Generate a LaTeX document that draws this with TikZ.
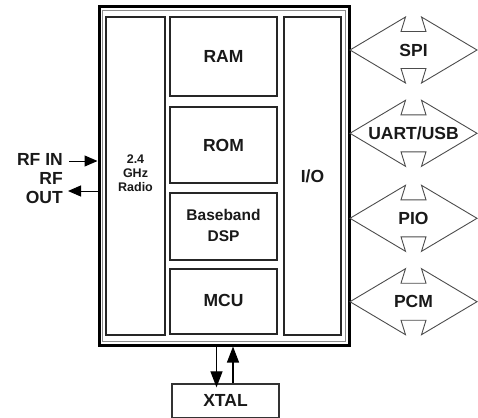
\documentclass[tikz,border=0pt]{standalone}
\usepackage{fontspec}
\setmainfont{Liberation Sans}
\usetikzlibrary{arrows.meta}
\tikzset{
  lab/.style={font=\fontsize{17.5}{19}\selectfont\bfseries, text=black!90, inner sep=0pt, align=center},
  blk/.style={draw=black!85, line width=1.6pt, inner sep=0pt},
  ifshape/.style={draw=black!70, line width=0.9pt, line join=miter},
  sig/.style={line width=1pt, -{Triangle[length=13pt,width=11pt]}},
  xsig/.style={line width=1.2pt, -{Triangle[length=16pt,width=12pt]}},
}
\begin{document}
\begin{tikzpicture}[x=1pt,y=-1pt]
\useasboundingbox (0,0) rectangle (478,417);
\clip (0,0) rectangle (478,417);
% chip
\node[draw, line width=3pt, minimum width=250pt, minimum height=338pt, inner sep=0pt] (chip) at (224,176) {};
\draw[black!45, line width=0.8pt] (102.5,10.5) rectangle (345.5,341.5);
% inner blocks
\node[blk, minimum width=59pt, minimum height=318pt] (radio) at (135.5,176) {};
\node[font=\fontsize{12.5}{14}\selectfont\bfseries, align=center, inner sep=0pt, text=black!90] (radiotxt) at (135.5,173) {2.4\\GHz\\Radio};
\node[blk, minimum width=107pt, minimum height=79pt] (ram) at (223.5,56.5) {};
\node[lab] at (ram.center) {RAM};
\node[blk, minimum width=107pt, minimum height=76pt] (rom) at (223.5,145) {};
\node[lab] at (rom.center) {ROM};
\node[blk, minimum width=107pt, minimum height=67pt] (bb) at (223.5,226.5) {};
\node[lab, font=\fontsize{15.5}{21}\selectfont\bfseries] at (223.5,225.5) {Baseband\\DSP};
\node[blk, minimum width=107pt, minimum height=65pt] (mcu) at (223.5,301.5) {};
\node[lab] at (223.5,300) {MCU};
\node[blk, minimum width=57pt, minimum height=318pt] (io) at (312.5,176) {};
\node[lab] at (io.center) {I/O};
% XTAL
\node[draw=black!80, line width=1.3pt, minimum width=107pt, minimum height=34pt, inner sep=0pt] (xtal) at (225.5,401) {};
\node[lab] at (225.5,400) {XTAL};
\coordinate (xd) at (216.5,345);
\coordinate (xu) at (233,384);
\draw[xsig] (xd |- chip.south) -- ([yshift=-4pt]xd |- xtal.north);
\draw[xsig] (xu |- xtal.north) -- (xu |- chip.south);
% RF
\node[lab, align=right, anchor=east, font=\fontsize{17.5}{19}\selectfont\bfseries] (rf) at (63,179) {RF IN\\RF\\OUT};
\coordinate (rfin) at (69,161);
\coordinate (rfout) at (68,191);
\draw[sig] (rfin) -- (rfin -| chip.west);
\draw[sig] (rfout -| chip.west) -- (rfout);
% interfaces
\foreach \nm/\txt/\cy in {spi/SPI/50, uart/UART\slash USB/133.3, pio/PIO/218.3, pcm/PCM/301.7}{
  \node[lab] (\nm) at (413.5,\cy) {\txt};
  \draw[ifshape] ([xshift=-63.5pt]\nm.center) -- ++(55.5,-33) -- ++(-4.5,14.5) -- ++(25,0) -- ++(-4.5,-14.5)
    -- ++(55.5,33) -- ++(-55.5,33) -- ++(4.5,-14.5) -- ++(-25,0) -- ++(4.5,14.5) -- cycle;
}
\end{tikzpicture}
\end{document}
